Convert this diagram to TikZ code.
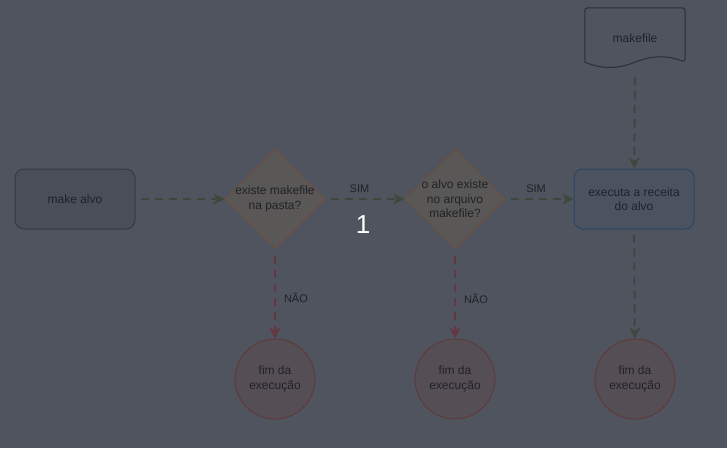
\documentclass[tikz,border=0pt]{standalone}
\usepackage{fontspec}
\setmainfont{Liberation Sans}
\usetikzlibrary{shapes.geometric,arrows.meta}
\definecolor{bgc}{RGB}{80,84,94}
\definecolor{txtc}{RGB}{32,34,40}
\definecolor{boxfill}{RGB}{73,78,89}
\definecolor{boxline}{RGB}{50,58,72}
\definecolor{decfill}{RGB}{90,88,86}
\definecolor{decline}{RGB}{108,78,66}
\definecolor{exfill}{RGB}{76,83,96}
\definecolor{exline}{RGB}{45,68,100}
\definecolor{endfill}{RGB}{85,78,84}
\definecolor{endline}{RGB}{95,58,60}
\definecolor{docline}{RGB}{45,47,52}
\definecolor{flowc}{RGB}{62,72,62}
\definecolor{noc}{RGB}{100,55,68}
\begin{document}
\begin{tikzpicture}[x=1pt, y=1pt,
  txt/.style={font=\fontsize{12}{14.5}\selectfont, text=txtc, align=center},
  lbl/.style={font=\fontsize{11}{13}\selectfont, text=txtc, inner sep=1pt},
  startbox/.style={txt, draw=boxline, fill=boxfill, rounded corners=9pt, minimum width=120pt, minimum height=60pt, line width=1pt},
  execbox/.style={startbox, draw=exline, fill=exfill},
  decision/.style={diamond, aspect=1, minimum size=100pt, inner sep=0pt, draw=decline, fill=decfill, line width=1pt},
  endnode/.style={txt, circle, minimum size=80pt, inner sep=0pt, draw=endline, fill=endfill, line width=1pt},
  docnode/.style={txt, minimum width=100pt, minimum height=60pt, inner sep=0pt},
  flow/.style={draw=flowc, line width=2pt, dash pattern=on 8pt off 6pt, -{Stealth[length=11pt, width=11pt, inset=3pt]}},
  noflow/.style={flow, draw=noc}]
  \fill[bgc] (0,0) rectangle (727,448);
  \useasboundingbox (0,0) rectangle (727,448);
  % shapes
  \node[startbox] (make) at (75,249) {make alvo};
  \node[decision, label={[txt]center:existe makefile\\na pasta?}] (d1) at (275,249) {};
  \node[decision, label={[txt]center:o alvo existe\\no arquivo\\makefile?}] (d2) at (455,249) {};
  \node[execbox] (exec) at (634,249) {executa a receita\\do alvo};
  \node[docnode] (mk) at (635,410) {makefile};
  \draw[docline, line width=1pt, rounded corners=3pt] ([yshift=6pt]mk.south west) -- (mk.north west) -- (mk.north east) -- ([yshift=6pt]mk.south east)
    [sharp corners] .. controls +(-17,7) and +(17,7) .. ([yshift=6pt]mk.south)
    .. controls +(-17,-7) and +(17,-7) .. ([yshift=6pt]mk.south west);
  \node[endnode] (fim1) at (275,69) {fim da\\execução};
  \node[endnode] (fim2) at (455,69) {fim da\\execução};
  \node[endnode] (fim3) at (635,69) {fim da\\execução};
  % connectors
  \draw[flow, shorten <=5pt] (make) -- (d1);
  \draw[flow, shorten <=5pt] (d1) -- node[lbl, above=4pt, pos=0.43] (sim1) {SIM} (d2);
  \draw[flow, shorten <=5pt] (d2) -- node[lbl, above=4pt, pos=0.45] (sim2) {SIM} (exec);
  \draw[flow, shorten <=9pt] (mk.south) -- (exec);
  \draw[noflow, shorten <=6pt] (d1) -- node[lbl, right=7pt, pos=0.54] (nao1) {NÃO} (fim1);
  \draw[noflow, shorten <=6pt] (d2) -- node[lbl, right=7pt, pos=0.55] (nao2) {NÃO} (fim2);
  \draw[flow, shorten <=5pt] (exec) -- (fim3);
  \node[font=\fontsize{26}{30}\selectfont, text=white] (num) at (363,223) {1};
\end{tikzpicture}
\end{document}
